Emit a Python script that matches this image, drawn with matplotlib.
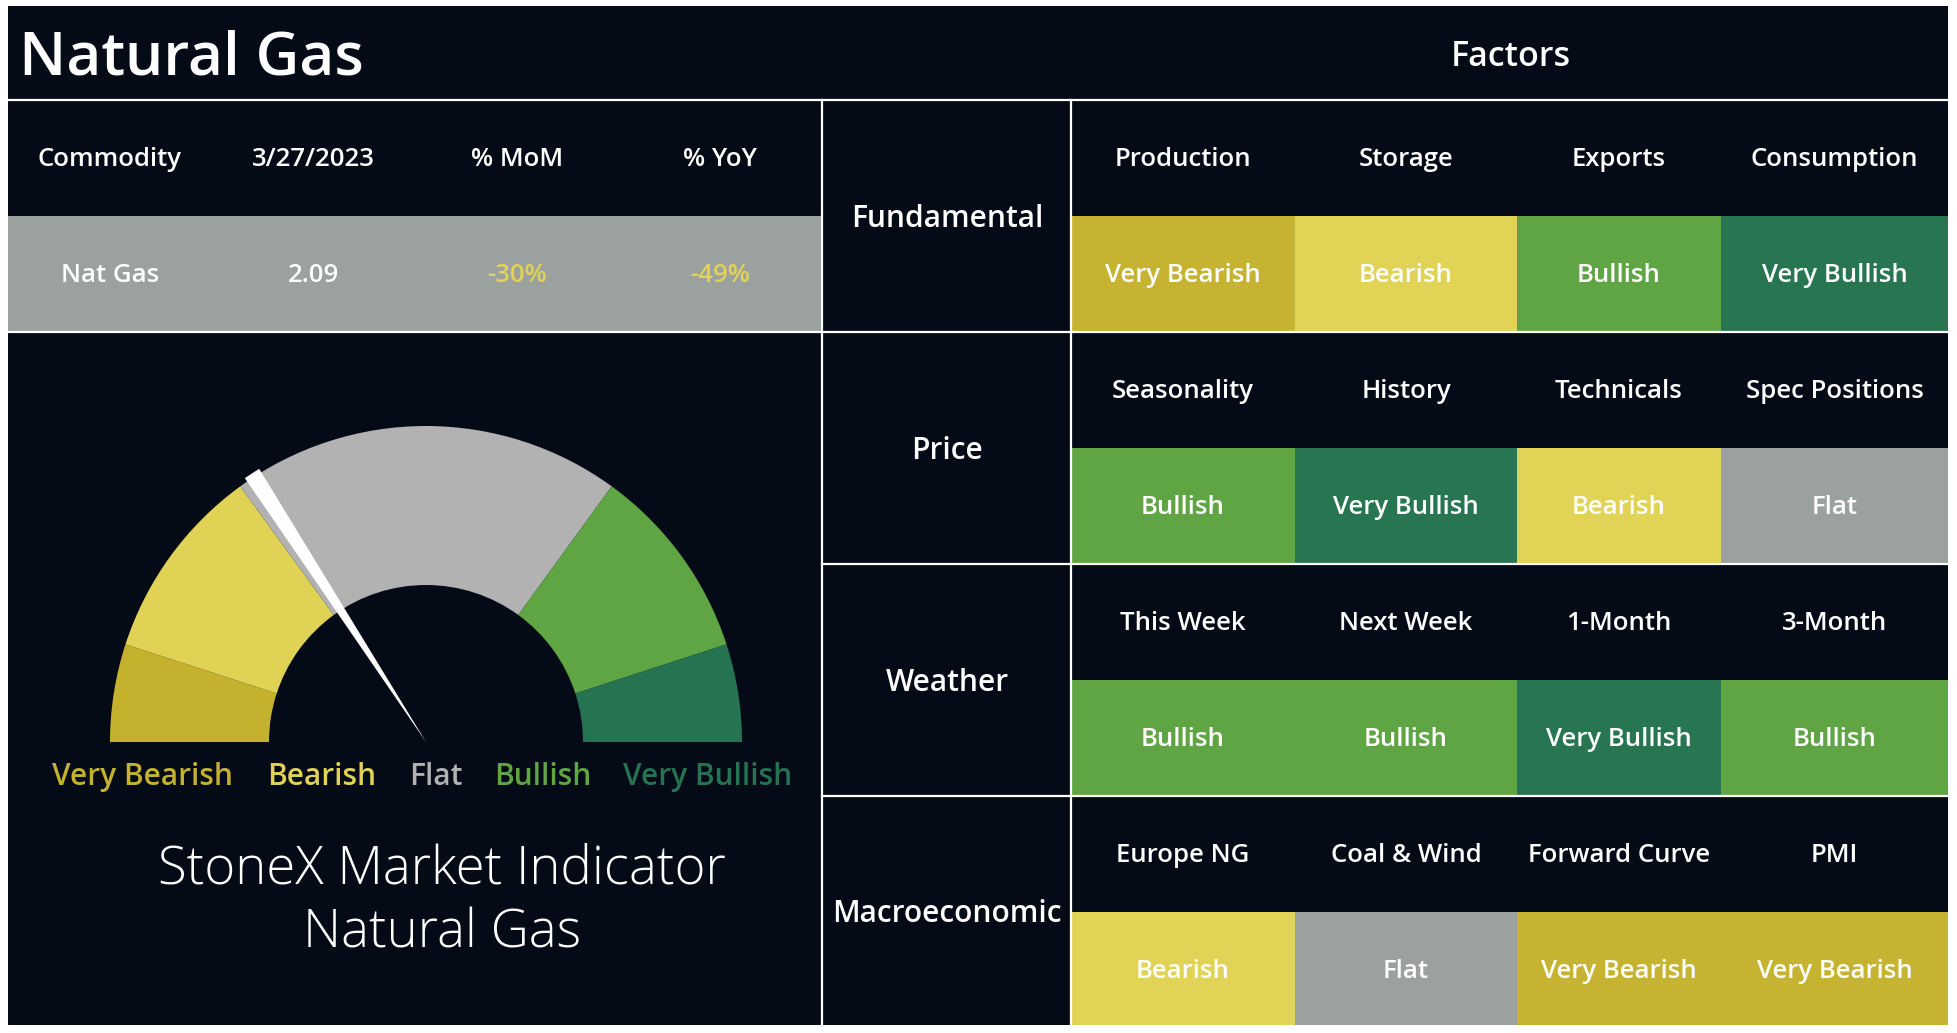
import matplotlib
matplotlib.use('Agg')
import matplotlib.pyplot as plt
from matplotlib.patches import Rectangle, Wedge
import numpy as np

# ---- data ----
title = 'Natural Gas'
table_headers = ['Commodity', '3/27/2023', '% MoM', '% YoY']
table_values = ['Nat Gas', '2.09', '-30%', '-49%']

factor_groups = ['Fundamental', 'Price', 'Weather', 'Macroeconomic']
factor_names = [
    ['Production', 'Storage', 'Exports', 'Consumption'],
    ['Seasonality', 'History', 'Technicals', 'Spec Positions'],
    ['This Week', 'Next Week', '1-Month', '3-Month'],
    ['Europe NG', 'Coal & Wind', 'Forward Curve', 'PMI'],
]
factor_ratings = [
    ['Very Bearish', 'Bearish', 'Bullish', 'Very Bullish'],
    ['Bullish', 'Very Bullish', 'Bearish', 'Flat'],
    ['Bullish', 'Bullish', 'Very Bullish', 'Bullish'],
    ['Bearish', 'Flat', 'Very Bearish', 'Very Bearish'],
]

gauge_labels = ['Very Bearish', 'Bearish', 'Flat', 'Bullish', 'Very Bullish']
gauge_sizes = [10, 20, 40, 20, 10]   # share of the half circle (total 100)
needle_value = 31.7                  # position on the 0-100 scale
needle_width = 1.7

# ---- colours ----
bg = '#040b16'
cell_colors = {'Very Bearish': '#c6b332', 'Bearish': '#e0d355', 'Flat': '#9aa19f',
               'Bullish': '#5fa544', 'Very Bullish': '#287552'}
gauge_colors = ['#c4b12e', '#e0d255', '#b2b2b2', '#5fa544', '#267352']
row_gray = '#9aa19f'

plt.rcParams['font.family'] = ['Open Sans', 'DejaVu Sans']

W, H = 1957, 1033
fig = plt.figure(figsize=(W / 100, H / 100), dpi=100, facecolor='white')
ax = fig.add_axes([0, 0, 1, 1])
ax.set_xlim(0, W)
ax.set_ylim(0, H)
ax.axis('off')


def Y(y):
    # pixel rows from the top -> data y
    return H - y


def rect(x0, y0, x1, y1, color):
    ax.add_patch(Rectangle((x0, Y(y1)), x1 - x0, y1 - y0, facecolor=color, edgecolor='none'))


def txt(x, y, s, size, color='white', weight='semibold', ha='center'):
    ax.text(x, Y(y), s, fontsize=size, color=color, fontweight=weight, ha=ha, va='center')


# dark panel
rect(8, 6, 1948, 1025, bg)

# title row
txt(19, 59, title, 43.5, ha='left')
txt(1511, 57, 'Factors', 24.5)

# commodity table
col_w = (822 - 8) / 4
for i, h in enumerate(table_headers):
    cx = 8 + col_w * (i + 0.5)
    txt(cx, 160, h, 18.5)
rect(8, 216, 822, 332, row_gray)
for i, v in enumerate(table_values):
    cx = 8 + col_w * (i + 0.5)
    col = cell_colors['Bearish'] if v.startswith('-') and v.endswith('%') else 'white'
    txt(cx, 276, v, 18.5, color=col)

# factors grid
col_edges = [1071, 1295, 1517, 1721, 1948]
block_top = [100, 332, 564, 796]
block_h = [232, 232, 232, 229]
for b, group in enumerate(factor_groups):
    top = block_top[b]
    mid = top + 116
    txt(947, top + block_h[b] / 2 + 3, group, 21.5)
    for c in range(4):
        x0, x1 = col_edges[c], col_edges[c + 1]
        cx = (x0 + x1) / 2
        txt(cx, top + 60, factor_names[b][c], 18.5)
        rating = factor_ratings[b][c]
        rect(x0, mid, x1, top + block_h[b], cell_colors[rating])
        txt(cx, mid + 60, rating, 18.5)

# grid lines
lw = 1.6
ax.plot([8, 1948], [Y(100), Y(100)], color='white', lw=lw)
ax.plot([8, 1948], [Y(332), Y(332)], color='white', lw=lw)
for y in [564, 796]:
    ax.plot([822, 1948], [Y(y), Y(y)], color='white', lw=lw)
for x in [822, 1071]:
    ax.plot([x, x], [Y(100), Y(1025)], color='white', lw=lw)

# gauge
cx, cy = 426, Y(742)
R, r = 316, 157
edges = 180 - np.concatenate([[0], np.cumsum(gauge_sizes)]) * 180 / sum(gauge_sizes)
for i in range(len(gauge_sizes)):
    ax.add_patch(Wedge((cx, cy), R, edges[i + 1], edges[i], width=R - r,
                       facecolor=gauge_colors[i], edgecolor='none'))

needle_angle = 180 - needle_value * 180 / sum(gauge_sizes)
half = needle_width * 180 / sum(gauge_sizes) / 2
ax.add_patch(Wedge((cx, cy), R + 4, needle_angle - half, needle_angle + half,
                   facecolor='white', edgecolor='none'))

label_x = [143, 322, 436, 543, 708]
for lx, lab, col in zip(label_x, gauge_labels, gauge_colors):
    txt(lx, 777, lab, 21.5, color=col)

txt(442, 870, 'StoneX Market Indicator', 38, weight='light')
txt(442, 934, 'Natural Gas', 38, weight='light')

fig.savefig('out.png', dpi=100, facecolor='white')
